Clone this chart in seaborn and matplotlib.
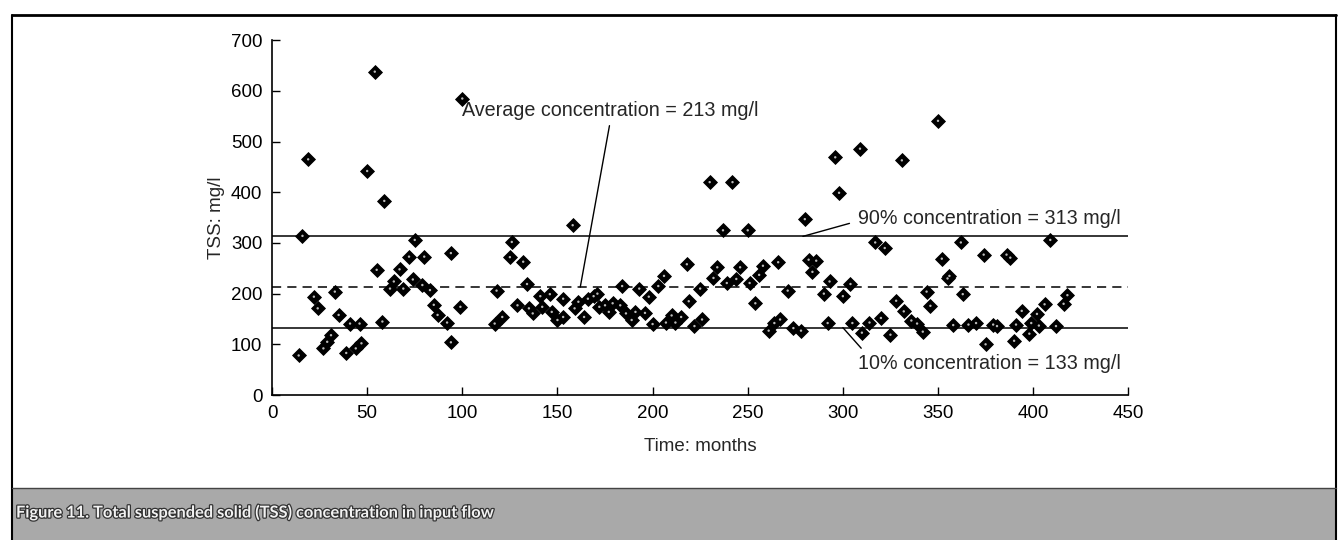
import numpy as np
import pandas as pd
import matplotlib
matplotlib.use("Agg")
import matplotlib.pyplot as plt
import matplotlib.patheffects as pe
from matplotlib.patches import Rectangle
import seaborn as sns

# TSS readings: time (months) and concentration (mg/l)
months = [14, 16, 19, 22, 24, 27, 29, 31, 33, 35, 39, 41, 44, 46, 47, 50, 54, 55, 58, 59,
          62, 64, 67, 69, 72, 74, 75, 79, 80, 83, 85, 87, 92, 94, 94, 99, 100,
          117, 118, 121, 125, 126, 129, 132, 134, 135, 137, 141, 142, 146, 147, 150,
          153, 153, 158, 159, 161, 164, 166, 169, 171, 172, 175, 177, 179, 183, 184,
          186, 189, 191, 193, 196, 198, 200, 203,
          206, 207, 210, 212, 215, 218, 219, 222, 225, 226, 230, 232, 234, 237, 239,
          242, 244, 246, 250, 251, 254, 256, 258, 261, 264, 266, 267, 271, 274, 278,
          280, 282, 284, 286, 290, 292, 293, 296, 298, 300, 304, 305, 309, 310, 314,
          317, 320, 322, 325, 328, 331, 332, 336, 339, 342, 344, 346, 350, 352, 355,
          356, 358, 362, 363, 366, 370, 374, 375, 379, 381, 386, 388, 390, 391, 394,
          398, 399, 402, 403, 406, 409, 412, 416, 418]
tss = [78, 314, 465, 194, 171, 92, 105, 118, 204, 158, 83, 141, 92, 141, 102, 442, 638, 247, 145, 383,
       210, 224, 248, 210, 273, 228, 306, 217, 273, 207, 178, 158, 143, 280, 104, 174, 585,
       141, 206, 154, 272, 302, 177, 263, 219, 171, 161, 195, 174, 199, 164, 148,
       190, 154, 335, 171, 184, 154, 190, 195, 200, 174, 177, 164, 181, 177, 215,
       161, 148, 164, 210, 162, 194, 140, 215,
       235, 143, 157, 143, 154, 258, 185, 136, 210, 149, 420, 231, 252, 325, 221,
       420, 229, 252, 325, 221, 181, 237, 255, 127, 142, 262, 149, 206, 132, 127,
       347, 267, 243, 265, 200, 142, 224, 469, 399, 195, 219, 142, 486, 123, 143,
       301, 152, 290, 119, 186, 463, 165, 147, 141, 125, 204, 176, 541, 269, 230,
       235, 138, 301, 199, 139, 142, 277, 100, 139, 136, 277, 271, 107, 139, 166,
       121, 142, 160, 137, 179, 306, 136, 180, 197]

avg_conc = 213
p90_conc = 313
p10_conc = 133
level_styles = ["-", "--", "-"]
level_values = [p90_conc, avg_conc, p10_conc]

x_ticks = [0, 50, 100, 150, 200, 250, 300, 350, 400, 450]
y_ticks = [0, 100, 200, 300, 400, 500, 600, 700]

df = pd.DataFrame({"month": months, "tss": tss})

sns.set_style("ticks")
plt.rcParams["font.family"] = ["Liberation Sans", "DejaVu Sans"]

fig = plt.figure(figsize=(13.4, 5.4), dpi=100)
ax = fig.add_axes([0.203, 0.2685, 0.639, 0.657])

sns.scatterplot(data=df, x="month", y="tss", marker="D", s=50, color="black",
                edgecolor="black", linewidth=0.6, ax=ax, zorder=3)
sns.scatterplot(data=df, x="month", y="tss", marker="o", s=3, color="#bbbbbb",
                edgecolor="none", ax=ax, zorder=4)

for val, ls in zip(level_values, level_styles):
    ax.axhline(val, color="black", lw=1.1, ls=ls, dashes=(6, 4) if ls == "--" else (None, None), zorder=2)

ax.set_xlim(0, 450)
ax.set_ylim(0, 700)
ax.set_xticks(x_ticks)
ax.set_yticks(y_ticks)
ax.tick_params(direction="in", length=6, width=1, labelsize=13.5, pad=7, colors="black")
ax.set_xlabel("Time: months", fontsize=13.5, labelpad=12)
ax.set_ylabel("TSS: mg/l", fontsize=13.5, labelpad=4)
sns.despine(ax=ax)
for sp in ["left", "bottom"]:
    ax.spines[sp].set_linewidth(1.2)
    ax.spines[sp].set_color("black")

line_kw = dict(arrowstyle="-", lw=1, color="black")
ax.annotate(f"Average concentration = {avg_conc} mg/l", xy=(162, avg_conc), xytext=(100, 562),
            va="center", ha="left", fontsize=14.2,
            arrowprops=dict(**line_kw, relpos=(0.5, 0), shrinkA=2, shrinkB=0))
ax.annotate(f"90% concentration = {p90_conc} mg/l", xy=(279, p90_conc), xytext=(308, 349),
            va="center", ha="left", fontsize=14.2,
            arrowprops=dict(**line_kw, relpos=(0, 0.35), shrinkA=4, shrinkB=0))
ax.annotate(f"10% concentration = {p10_conc} mg/l", xy=(300, p10_conc), xytext=(308, 63),
            va="center", ha="left", fontsize=14.2,
            arrowprops=dict(**line_kw, relpos=(0.03, 1), shrinkA=2, shrinkB=0))

# page frame and caption band
W, H = 1340, 540
fig.add_artist(Rectangle((12 / W, 0), (1336 - 12) / W, 1 - 488 / H, transform=fig.transFigure,
                         facecolor="#a9a9a9", edgecolor="none", zorder=0))
fig.add_artist(plt.Line2D([12 / W, 1336 / W], [1 - 15 / H, 1 - 15 / H], transform=fig.transFigure,
                          color="black", lw=2))
fig.add_artist(plt.Line2D([12 / W, 12 / W], [0, 1 - 15 / H], transform=fig.transFigure,
                          color="black", lw=1.5))
fig.add_artist(plt.Line2D([1336 / W, 1336 / W], [0, 1 - 15 / H], transform=fig.transFigure,
                          color="black", lw=1.5))
fig.add_artist(plt.Line2D([12 / W, 1336 / W], [1 - 488 / H, 1 - 488 / H], transform=fig.transFigure,
                          color="#444444", lw=1))

fig.text(16 / W, 1 - 513 / H, "Figure 11. Total suspended solid (TSS) concentration in input flow",
         family=["Lato", "DejaVu Sans"], fontweight="bold", fontsize=11.8, color="#f2f2f2",
         va="center", ha="left",
         path_effects=[pe.withStroke(linewidth=1.8, foreground="#333333")])

fig.savefig("out.png", dpi=100, facecolor="white")
